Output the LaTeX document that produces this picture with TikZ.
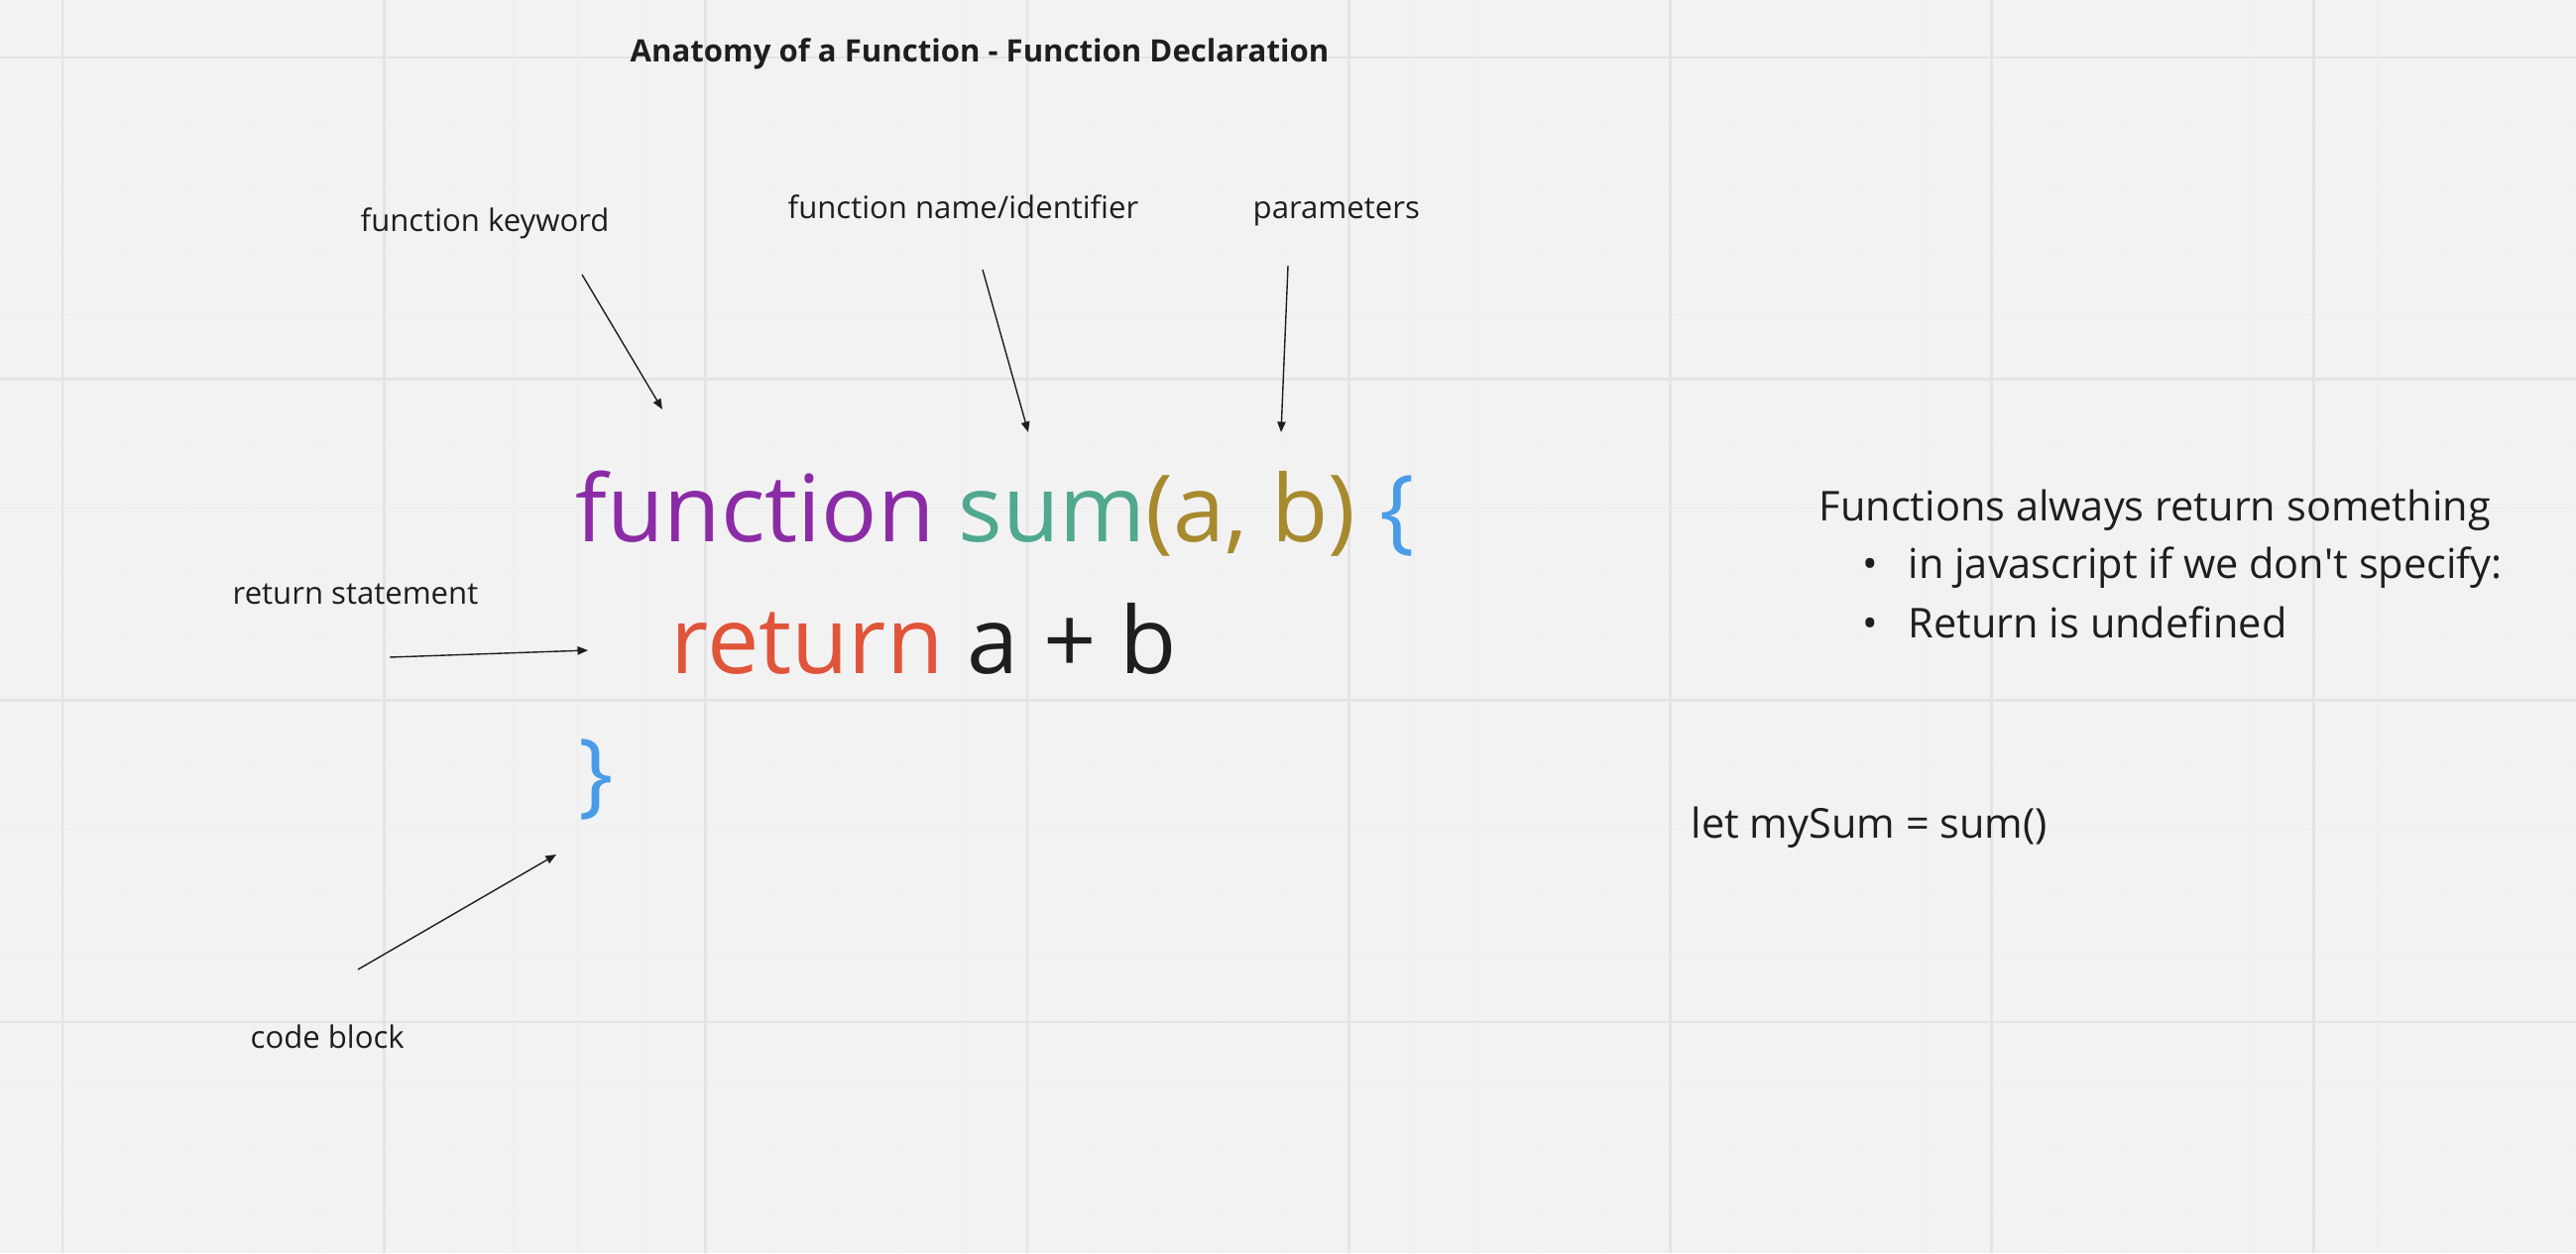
\documentclass[tikz,border=0pt]{standalone}
\usepackage{fontspec}
\setmainfont{Open Sans}
\usetikzlibrary{arrows.meta}
\definecolor{bg}{HTML}{F2F2F2}
\definecolor{gridmaj}{HTML}{E4E4E4}
\definecolor{gridmin}{HTML}{EFEFEF}
\definecolor{ink}{HTML}{1E1E1E}
\definecolor{kwpurple}{HTML}{8B2BA6}
\definecolor{nameteal}{HTML}{4FA88F}
\definecolor{paramgold}{HTML}{A88A2E}
\definecolor{braceblue}{HTML}{4A9BE8}
\definecolor{retred}{HTML}{E0553A}
\begin{document}
\begin{tikzpicture}[x=0.01cm,y=-0.01cm,
  lbl/.style={inner sep=0pt,anchor=base west,text=ink,font=\fontsize{8.85}{10}\selectfont},
  ttl/.style={inner sep=0pt,anchor=base west,text=ink,font=\bfseries\fontsize{8.85}{10}\selectfont},
  code/.style={inner sep=0pt,anchor=base west,text=ink,font=\fontsize{26.6}{30}\selectfont},
  note/.style={inner sep=0pt,anchor=base west,text=ink,font=\fontsize{11.8}{13}\selectfont},
  pointer/.style={draw=ink,line width=0.4pt,-{Triangle[length=3pt,width=2.4pt]}}]
\fill[bg] (0,0) rectangle (2598,1264);
\useasboundingbox (0,0) rectangle (2598,1264);
\begin{scope}
\clip (0,0) rectangle (2598,1264);
\foreach \k in {-1,...,40} {\draw[gridmin,line width=0.35pt] (63+64.86*\k,0) -- (63+64.86*\k,1264);}
\foreach \k in {-1,...,20} {\draw[gridmin,line width=0.35pt] (0,58+64.86*\k) -- (2598,58+64.86*\k);}
\foreach \k in {0,...,7} {\draw[gridmaj,line width=0.8pt] (63+324.3*\k,0) -- (63+324.3*\k,1264);}
\foreach \k in {0,...,3} {\draw[gridmaj,line width=0.8pt] (0,58+324.3*\k) -- (2598,58+324.3*\k);}
\end{scope}

\node[ttl] (title) at (635,63) {Anatomy of a Function - Function Declaration};

\node[lbl] (kwlbl) at (363,234) {function keyword};
\node[lbl] (namelbl) at (794,221) {function name/identifier};
\node[lbl] (paramlbl) at (1263,221) {parameters};
\node[lbl] (retlbl) at (234,609) {return statement};
\node[lbl] (blocklbl) at (252,1057) {code block};

\node[code] (line1) at (580,546) {\textcolor{kwpurple}{function} \textcolor{nameteal}{sum}\textcolor{paramgold}{(a, b)} \textcolor{braceblue}{\{}};
\node[code] (line2) at (676,679) {\textcolor{retred}{return} a + b};
\node[code,text=braceblue] (close) at (583,812) {\}};

\node[note] (n1) at (1834,525) {Functions always return something};
\node[note] (b1) at (1878,583) {•};
\node[note] (n2) at (1924,583) {in javascript if we don\textquotesingle t specify:};
\node[note] (b2) at (1878,643) {•};
\node[note] (n3) at (1924,643) {Return is undefined};
\node[note] (letnote) at (1705,845) {let mySum = sum()};

\coordinate (kwA) at (587,277);   \coordinate (kwB) at (668,413);
\coordinate (nmA) at (991,272);   \coordinate (nmB) at (1037,436);
\coordinate (prA) at (1299,268);  \coordinate (prB) at (1292,436);
\coordinate (rtA) at (393,663);   \coordinate (rtB) at (593,656);
\coordinate (cbA) at (361,978);   \coordinate (cbB) at (561,862);
\draw[pointer] (kwA) -- (kwB);
\draw[pointer] (nmA) -- (nmB);
\draw[pointer] (prA) -- (prB);
\draw[pointer] (rtA) -- (rtB);
\draw[pointer] (cbA) -- (cbB);
\end{tikzpicture}
\end{document}
